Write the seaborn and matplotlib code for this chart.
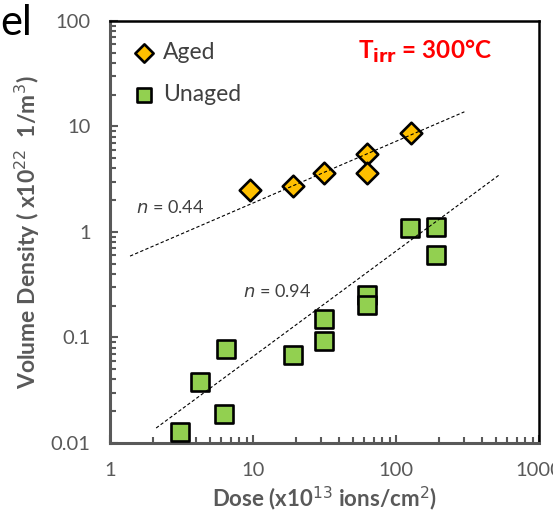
import numpy as np
import pandas as pd
import matplotlib
matplotlib.use("Agg")
import matplotlib.pyplot as plt
import seaborn as sns

# ---------------- data ----------------
aged_dose = [9.5, 19, 31.4, 62.7, 62.7, 127]
aged_density = [2.5, 2.7, 3.6, 5.5, 3.6, 8.7]

unaged_dose = [3.1, 4.26, 6.5, 6.3, 19, 31.4, 31.4, 62.7, 62.7, 125, 190, 190]
unaged_density = [0.0127, 0.038, 0.078, 0.019, 0.068, 0.15, 0.093, 0.25, 0.203, 1.09, 1.12, 0.605]

# power-law guide lines: density = coef * dose**slope over [x_start, x_end]
fit_names = ["aged", "unaged"]
fit_coef = [0.489, 0.0066]
fit_slope = [0.585, 1.0]
fit_start = [1.38, 2.1]
fit_end = [300, 534]
fit_labels = ["0.44", "0.94"]

sns.set_style("white")
plt.rcParams['font.family'] = ['Lato', 'DejaVu Sans']

fig = plt.figure(figsize=(5.53, 5.16), dpi=100)
ax = fig.add_axes([0.199, 0.1415, 0.776, 0.818])

aged = pd.DataFrame({"dose": aged_dose, "density": aged_density})
unaged = pd.DataFrame({"dose": unaged_dose, "density": unaged_density})

# guide lines
for c, k, x0, x1 in zip(fit_coef, fit_slope, fit_start, fit_end):
    xs = np.logspace(np.log10(x0), np.log10(x1), 50)
    sns.lineplot(x=xs, y=c * xs ** k, ax=ax, color="black", lw=0.8,
                 linestyle=(0, (3, 2)), zorder=4)

sns.scatterplot(data=aged, x="dose", y="density", ax=ax, marker="D", s=120,
                color="#FFC000", edgecolor="black", linewidth=1.9, zorder=3, label="Aged")
sns.scatterplot(data=unaged, x="dose", y="density", ax=ax, marker="s", s=150,
                color="#92D050", edgecolor="black", linewidth=1.9, zorder=3, label="Unaged")

ax.set_xscale("log")
ax.set_yscale("log")
ax.set_xlim(1, 1000)
ax.set_ylim(0.01, 100)

ax.set_xticks([1, 10, 100, 1000])
ax.set_xticklabels(["1", "10", "100", "1000"])
ax.set_yticks([0.01, 0.1, 1, 10, 100])
ax.set_yticklabels(["0.01", "0.1", "1", "10", "100"])

gray = "#595959"
ax.tick_params(which="both", direction="in", colors=gray, labelcolor=gray, labelsize=14.5)
ax.tick_params(which="major", length=6, width=1.5)
ax.tick_params(which="minor", length=4, width=1.5)
ax.tick_params(axis="x", which="both", bottom=True, top=False, pad=14)
ax.tick_params(axis="y", which="both", left=True, right=False, pad=14)

for side in ["left", "bottom"]:
    ax.spines[side].set_color(gray)
    ax.spines[side].set_linewidth(2.2)
for side in ["top", "right"]:
    ax.spines[side].set_color("black")
    ax.spines[side].set_linewidth(1.8)

ax.set_xlabel("Dose (x10$^{13}$ ions/cm$^{2}$)", fontsize=16, fontweight="bold",
              color=gray, labelpad=4)
ax.set_ylabel("Volume Density ( x10$^{22}$  1/m$^{3}$)", fontsize=16.5, fontweight="bold",
              color=gray, labelpad=6)

leg = ax.legend(loc="upper left", frameon=False, fontsize=16.5, handletextpad=0.2,
                labelspacing=0.95, borderaxespad=0.5, handlelength=1.2,
                markerscale=0.85, labelcolor="#404040")

ax.text(0.06, 0.545, "$n$ = " + fit_labels[0], transform=ax.transAxes, fontsize=13,
        color="#404040")
ax.text(0.31, 0.345, "$n$ = " + fit_labels[1], transform=ax.transAxes, fontsize=13,
        color="#404040")
ax.text(0.578, 0.91, "T$_{\\mathbf{irr}}$ = 300°C", transform=ax.transAxes, fontsize=17.5,
        color="red", fontweight="bold")

fig.text(0.0, 0.955, "el", fontsize=30, color="black", va="center")

fig.savefig("out.png", dpi=100)
